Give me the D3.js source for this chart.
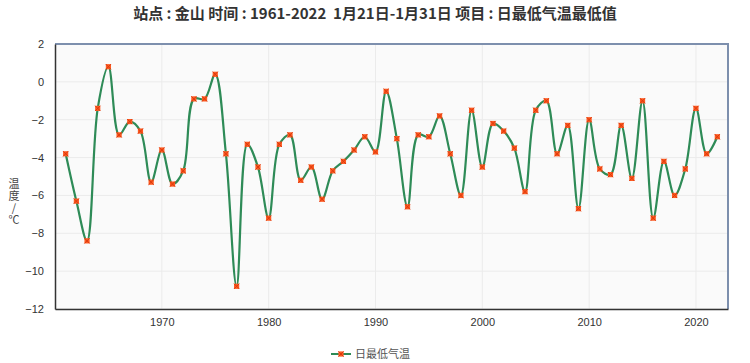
<!DOCTYPE html>
<html lang="zh">
<head>
  <meta charset="UTF-8" />
  <title>日最低气温最低值</title>
  <script src="https://d3js.org/d3.v7.min.js"></script>
  <style>
    body { margin: 0; background: #fff; font-family: "Liberation Sans", Arial, sans-serif; }
    #chart svg { display: block; }
  </style>
</head>
<body>
  <div id="chart"></div>
  <script>
    // ---------- DATA ----------
    const years = d3.range(1961, 2023);
    const minTemp = [
      -3.8, -6.3, -8.4, -1.4, 0.8, -2.8, -2.1, -2.6, -5.3, -3.6,
      -5.4, -4.7, -0.9, -0.9, 0.4, -3.8, -10.8, -3.3, -4.5, -7.2,
      -3.3, -2.8, -5.2, -4.5, -6.2, -4.7, -4.2, -3.6, -2.9, -3.7,
      -0.5, -3.0, -6.6, -2.8, -2.9, -1.8, -3.8, -6.0, -1.5, -4.5,
      -2.2, -2.6, -3.5, -5.8, -1.5, -1.0, -3.8, -2.3, -6.7, -2.0,
      -4.6, -4.9, -2.3, -5.1, -1.0, -7.2, -4.2, -6.0, -4.6, -1.4,
      -3.8, -2.9
    ];
    const xTicks = [1970, 1980, 1990, 2000, 2010, 2020];
    const yTicks = [2, 0, -2, -4, -6, -8, -10, -12];
    const yTitle = "温度/℃";
    const seriesName = "日最低气温";
    const titleText = "站点 : 金山 时间 : 1961-2022  1月21日-1月31日 项目 : 日最低气温最低值";

    const data = years.map((y, i) => ({ year: y, value: minTemp[i] }));

    // ---------- LAYOUT ----------
    const width = 750, height = 363;
    const margin = { top: 44, right: 22, bottom: 54, left: 55 };
    const svg = d3.select("#chart").append("svg").attr("width", width).attr("height", height);

    const x = d3.scaleLinear().domain([1960, 2023]).range([margin.left, width - margin.right]);
    const y = d3.scaleLinear().domain([-12, 2]).range([height - margin.bottom, margin.top]);

    // plot background
    svg.append("rect")
      .attr("x", margin.left).attr("y", margin.top)
      .attr("width", x.range()[1] - margin.left)
      .attr("height", y.range()[0] - margin.top)
      .attr("fill", "#fafafa");

    // grid
    svg.append("g").selectAll("line").data(yTicks).join("line")
      .attr("x1", margin.left).attr("x2", x.range()[1])
      .attr("y1", d => y(d)).attr("y2", d => y(d))
      .attr("stroke", "#ebebeb").attr("stroke-width", 1);
    svg.append("g").selectAll("line").data(xTicks).join("line")
      .attr("y1", margin.top).attr("y2", y.range()[0])
      .attr("x1", d => x(d)).attr("x2", d => x(d))
      .attr("stroke", "#ebebeb").attr("stroke-width", 1);

    // top / right frame
    svg.append("path")
      .attr("d", `M${margin.left},${margin.top}H${x.range()[1]}V${y.range()[0]}`)
      .attr("fill", "none").attr("stroke", "#7d8fad").attr("stroke-width", 2);

    // axes
    const xAxis = svg.append("g")
      .attr("transform", `translate(0,${y.range()[0]})`)
      .call(d3.axisBottom(x).tickValues(xTicks).tickFormat(d3.format("d")).tickSize(0).tickPadding(9));
    const yAxis = svg.append("g")
      .attr("transform", `translate(${margin.left},0)`)
      .call(d3.axisLeft(y).tickValues(yTicks).tickSize(0).tickPadding(11));
    [xAxis, yAxis].forEach(g => {
      g.select(".domain").attr("stroke", "#333").attr("stroke-width", 1.5);
      g.selectAll("text").attr("fill", "#333").style("font-size", "11px")
        .style("font-family", "'Liberation Sans', Arial, sans-serif");
    });

    // y axis title, written top to bottom
    svg.append("text")
      .attr("x", 14).attr("y", 178)
      .attr("fill", "#444")
      .style("writing-mode", "vertical-rl")
      .style("text-orientation", "upright")
      .style("letter-spacing", "1px")
      .style("font-size", "11px")
      .style("font-family", "'Noto Sans CJK SC', sans-serif")
      .text(yTitle);

    // line
    const line = d3.line()
      .x(d => x(d.year)).y(d => y(d.value))
      .curve(d3.curveCatmullRom.alpha(0.5));
    svg.append("path").datum(data)
      .attr("d", line)
      .attr("fill", "none").attr("stroke", "#2e8b57").attr("stroke-width", 2.2);

    // markers
    const marker = (g, cx, cy) => {
      g.append("rect").attr("x", cx - 2.6).attr("y", cy - 2.6).attr("width", 5.2).attr("height", 5.2)
        .attr("fill", "#ff5a1f");
      g.append("path").attr("d", `M${cx - 2.6},${cy - 2.6}L${cx + 2.6},${cy + 2.6}M${cx + 2.6},${cy - 2.6}L${cx - 2.6},${cy + 2.6}`)
        .attr("stroke", "#d93a10").attr("stroke-width", 1);
    };
    const mg = svg.append("g");
    data.forEach(d => marker(mg, x(d.year), y(d.value)));

    // title
    svg.append("text")
      .attr("x", width / 2).attr("y", 19)
      .attr("text-anchor", "middle")
      .attr("fill", "#333")
      .style("white-space", "pre")
      .style("font-size", "15px").style("font-weight", "bold")
      .style("font-family", "'Noto Sans CJK SC', sans-serif")
      .text(titleText);

    // legend
    const lg = svg.append("g").attr("transform", "translate(331,354)");
    lg.append("line").attr("x1", 0).attr("x2", 20).attr("y1", 0).attr("y2", 0)
      .attr("stroke", "#2e8b57").attr("stroke-width", 2);
    marker(lg, 10, 0);
    lg.append("text").attr("x", 24).attr("y", 4)
      .attr("fill", "#555")
      .style("font-size", "11px")
      .style("font-family", "'Noto Sans CJK SC', sans-serif")
      .text(seriesName);
  </script>
</body>
</html>
